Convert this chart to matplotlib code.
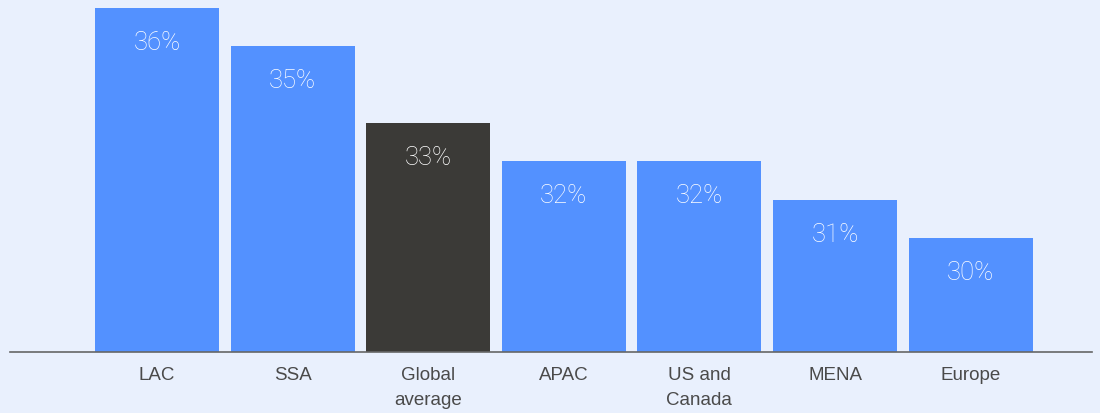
import matplotlib
matplotlib.use("Agg")
import matplotlib.pyplot as plt

categories = ["LAC", "SSA", "Global\naverage", "APAC", "US and\nCanada", "MENA", "Europe"]
values = [36, 35, 33, 32, 32, 31, 30]
highlight = "Global\naverage"

bg = "#e9f0fd"
blue = "#5391ff"
dark = "#3b3a37"

plt.rcParams["font.family"] = ["Liberation Sans", "DejaVu Sans"]

fig = plt.figure(figsize=(11, 4.14), dpi=100, facecolor=bg)
ax = fig.add_axes([10 / 1100, 61 / 414, 1082 / 1100, 353 / 414])
ax.set_facecolor(bg)

x = list(range(len(categories)))
colors = [dark if c == highlight else blue for c in categories]
bars = ax.bar(x, values, width=0.914, color=colors, zorder=2)

for b, v in zip(bars, values):
    ax.annotate(f"{v}%", (b.get_x() + b.get_width() / 2, v),
                xytext=(0, -34), textcoords="offset pixels",
                ha="center", va="center", color="white", fontsize=18.5,
                family=["Roboto", "Liberation Sans"], fontweight="light")

ax.set_xlim(-1.084, 6.895)
ax.set_ylim(27.026, 36.23)

for s in ["top", "right", "left"]:
    ax.spines[s].set_visible(False)
ax.spines["bottom"].set_color("#666666")
ax.spines["bottom"].set_linewidth(1.2)
ax.set_yticks([])
ax.set_xticks(x)
ax.set_xticklabels(categories, fontsize=13.5, color="#4a4a4a", linespacing=1.6)
ax.tick_params(axis="x", length=0, pad=10)

fig.savefig("out.png", dpi=100, facecolor=bg)
